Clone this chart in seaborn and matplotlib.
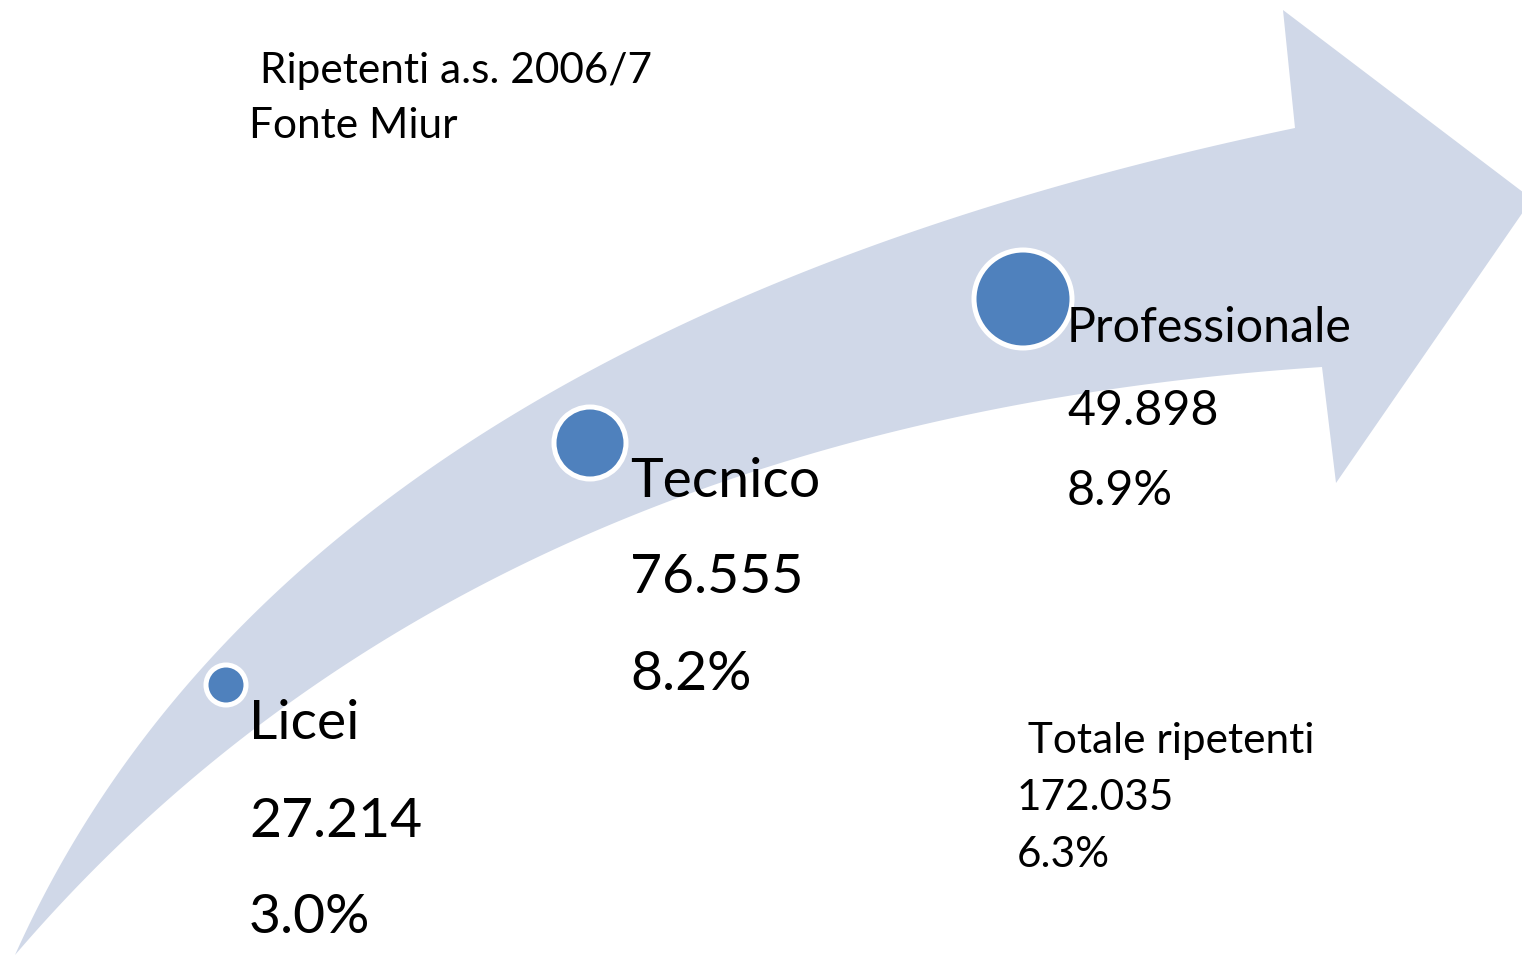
import numpy as np
import pandas as pd
import matplotlib
matplotlib.use("Agg")
import matplotlib.pyplot as plt
import seaborn as sns

# data (ripetenti a.s. 2006/7, fonte Miur)
categorie = ["Licei", "Tecnico", "Professionale"]
ripetenti = [27214, 76555, 49898]
percentuali = [3.0, 8.2, 8.9]
totale_ripetenti = 172035
totale_pct = 6.3
titolo = [" Ripetenti a.s. 2006/7", "Fonte Miur"]

# layout (canvas in pixels, y downwards)
W, H = 1522, 957
anchors = [(226, 685), (590, 443), (1023, 299)]      # circle centres on the arrow
radii = [20, 36, 49]                                   # marker radius in px
text_x = [249, 630, 1067]
text_base = [(739, 837, 933), (497, 593, 690), (342, 425, 505)]
text_pt = [39.8, 39.8, 34.8]

arrow_col = "#D0D8E8"
dot_col = "#4F81BD"

sns.set_theme(style="white")
plt.rcParams["font.family"] = ["Lato", "DejaVu Sans"]


def bezier(p0, c, p2, n=200):
    t = np.linspace(0, 1, n)[:, None]
    return (1 - t) ** 2 * np.array(p0) + 2 * t * (1 - t) * np.array(c) + t ** 2 * np.array(p2)


fig = plt.figure(figsize=(W / 100, H / 100), dpi=100)
ax = fig.add_axes([0, 0, 1, 1])
ax.set_xlim(0, W)
ax.set_ylim(H, 0)
ax.axis("off")

# curved arrow
tail = (15, 955)
upper = bezier(tail, (291, 338), (1295, 128))
lower = bezier(tail, (470, 424), (1322, 367))[::-1]
head = np.array([(1283, 10), (1532, 199), (1336, 483)])
outline = np.vstack([upper, head, lower])
ax.fill(outline[:, 0], outline[:, 1], color=arrow_col, lw=0, zorder=1)

# circles
df = pd.DataFrame({
    "categoria": categorie,
    "x": [a[0] for a in anchors],
    "y": [a[1] for a in anchors],
})
sizes = {c: (2 * r * 0.72) ** 2 for c, r in zip(categorie, radii)}
sns.scatterplot(data=df, x="x", y="y", size="categoria", sizes=sizes,
                color=dot_col, edgecolor="white", linewidth=3.6,
                legend=False, ax=ax, zorder=3)
ax.set_xlabel("")
ax.set_ylabel("")

# labels
for i, cat in enumerate(categorie):
    righe = [cat, f"{ripetenti[i]:,}".replace(",", "."), f"{percentuali[i]:.1f}%"]
    for riga, yb in zip(righe, text_base[i]):
        ax.text(text_x[i], yb, riga, fontsize=text_pt[i], va="baseline",
                ha="left", color="black", zorder=4)

for riga, yb in zip(titolo, (83, 138)):
    ax.text(249, yb, riga, fontsize=30.5, va="baseline", ha="left", color="black")

tot = [" Totale ripetenti", f"{totale_ripetenti:,}".replace(",", "."), f"{totale_pct:.1f}%"]
for riga, yb in zip(tot, (753, 810, 867)):
    ax.text(1017, yb, riga, fontsize=30.5, va="baseline", ha="left", color="black")

fig.savefig("out.png", dpi=100, facecolor="white")
